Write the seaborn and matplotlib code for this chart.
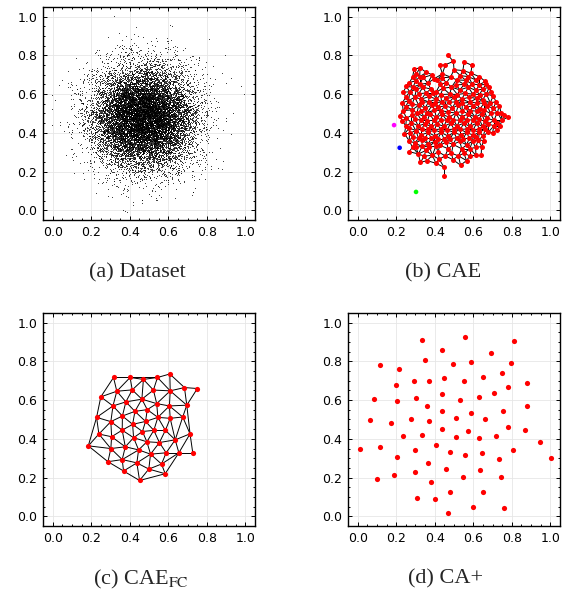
import numpy as np
import pandas as pd
import matplotlib
matplotlib.use("Agg")
import matplotlib.pyplot as plt
import matplotlib.tri as mtri
from matplotlib.collections import LineCollection
from matplotlib.ticker import MultipleLocator
import seaborn as sns

sns.set_style("ticks")
plt.rcParams["font.family"] = ["DejaVu Sans"]
plt.rcParams["mathtext.fontset"] = "stix"

# (a) dataset cloud: ~15k points, too many to read one by one.
CLOUD_CENTER = (0.47, 0.48)
CLOUD_SD = 0.13
CLOUD_N = 15000

# (b) CAE nodes (read approximately from the dense blob)
cae_nodes = [
    (0.468, 0.802), (0.426, 0.748), (0.455, 0.752), (0.497, 0.769), (0.553, 0.767),
    (0.594, 0.748), (0.293, 0.729), (0.324, 0.736),
    (0.305, 0.705), (0.388, 0.700), (0.440, 0.705), (0.500, 0.726), (0.546, 0.722),
    (0.587, 0.709), (0.482, 0.688), (0.356, 0.712),
    (0.285, 0.688), (0.322, 0.690), (0.398, 0.680), (0.436, 0.684), (0.533, 0.696),
    (0.575, 0.690), (0.632, 0.690),
    (0.269, 0.660), (0.302, 0.669), (0.340, 0.686), (0.364, 0.657), (0.414, 0.674),
    (0.461, 0.660), (0.513, 0.674), (0.561, 0.671), (0.612, 0.674), (0.662, 0.666),
    (0.252, 0.640), (0.287, 0.636), (0.322, 0.650), (0.428, 0.650), (0.512, 0.648),
    (0.553, 0.650), (0.595, 0.652), (0.632, 0.648), (0.668, 0.650),
    (0.237, 0.610), (0.270, 0.612), (0.305, 0.626), (0.340, 0.636), (0.380, 0.626),
    (0.406, 0.610), (0.444, 0.631), (0.487, 0.636), (0.530, 0.622), (0.574, 0.636),
    (0.614, 0.619), (0.648, 0.626), (0.683, 0.636),
    (0.250, 0.585), (0.316, 0.602), (0.354, 0.606), (0.390, 0.606), (0.478, 0.600),
    (0.518, 0.598), (0.558, 0.604), (0.598, 0.600), (0.633, 0.598), (0.668, 0.600),
    (0.690, 0.612),
    (0.265, 0.567), (0.296, 0.584), (0.331, 0.574), (0.371, 0.588), (0.409, 0.574),
    (0.430, 0.598), (0.461, 0.578), (0.499, 0.584), (0.539, 0.574), (0.579, 0.584),
    (0.617, 0.578), (0.648, 0.571), (0.704, 0.591), (0.718, 0.560),
    (0.232, 0.555), (0.282, 0.548), (0.333, 0.558), (0.368, 0.560), (0.402, 0.555),
    (0.436, 0.560), (0.475, 0.558), (0.508, 0.560), (0.543, 0.553), (0.582, 0.558),
    (0.618, 0.555), (0.655, 0.552), (0.688, 0.556),
    (0.250, 0.536), (0.284, 0.519), (0.317, 0.543), (0.350, 0.528), (0.388, 0.545),
    (0.419, 0.533), (0.454, 0.540), (0.492, 0.528), (0.523, 0.545), (0.562, 0.533),
    (0.600, 0.540), (0.634, 0.522), (0.672, 0.540), (0.704, 0.526), (0.735, 0.540),
    (0.236, 0.515), (0.330, 0.512), (0.362, 0.505), (0.398, 0.518), (0.432, 0.515),
    (0.470, 0.508), (0.542, 0.512), (0.585, 0.515), (0.620, 0.512), (0.655, 0.518),
    (0.690, 0.500), (0.725, 0.505), (0.760, 0.490),
    (0.218, 0.488), (0.253, 0.476), (0.308, 0.502), (0.343, 0.484), (0.374, 0.498),
    (0.409, 0.481), (0.440, 0.495), (0.475, 0.481), (0.510, 0.502), (0.541, 0.484),
    (0.575, 0.498), (0.610, 0.481), (0.643, 0.498), (0.672, 0.476), (0.707, 0.464),
    (0.745, 0.502), (0.749, 0.464), (0.782, 0.484), (0.280, 0.490),
    (0.297, 0.470), (0.330, 0.466), (0.362, 0.462), (0.395, 0.465), (0.430, 0.468),
    (0.462, 0.465), (0.497, 0.467), (0.530, 0.465), (0.565, 0.468), (0.600, 0.466),
    (0.632, 0.470), (0.660, 0.460), (0.725, 0.452),
    (0.232, 0.462), (0.250, 0.436), (0.243, 0.395),
    (0.279, 0.453), (0.315, 0.436), (0.348, 0.447), (0.383, 0.433), (0.412, 0.447),
    (0.447, 0.433), (0.482, 0.450), (0.516, 0.436), (0.551, 0.450), (0.582, 0.433),
    (0.617, 0.450), (0.648, 0.433), (0.678, 0.447), (0.707, 0.436), (0.738, 0.436),
    (0.268, 0.425), (0.332, 0.420), (0.365, 0.420), (0.398, 0.416), (0.430, 0.420),
    (0.465, 0.416), (0.500, 0.420), (0.533, 0.418), (0.568, 0.420), (0.600, 0.416),
    (0.632, 0.420), (0.662, 0.420), (0.700, 0.400),
    (0.270, 0.398), (0.302, 0.412), (0.331, 0.390), (0.366, 0.402), (0.400, 0.384),
    (0.433, 0.402), (0.468, 0.384), (0.499, 0.402), (0.534, 0.390), (0.565, 0.402),
    (0.600, 0.388), (0.631, 0.402), (0.652, 0.384), (0.679, 0.405), (0.721, 0.416),
    (0.285, 0.378), (0.316, 0.372), (0.350, 0.372), (0.383, 0.372), (0.416, 0.370),
    (0.448, 0.370), (0.480, 0.370), (0.513, 0.375), (0.548, 0.370), (0.580, 0.372),
    (0.612, 0.378), (0.655, 0.360),
    (0.267, 0.360), (0.296, 0.347), (0.333, 0.364), (0.366, 0.343), (0.399, 0.355),
    (0.426, 0.336), (0.461, 0.353), (0.496, 0.340), (0.530, 0.357), (0.565, 0.338),
    (0.596, 0.357), (0.627, 0.364), (0.643, 0.329), (0.612, 0.325),
    (0.285, 0.325), (0.335, 0.330), (0.372, 0.328), (0.405, 0.330), (0.582, 0.318),
    (0.267, 0.303), (0.302, 0.326), (0.315, 0.291), (0.354, 0.309), (0.388, 0.284),
    (0.418, 0.303), (0.454, 0.281), (0.487, 0.295), (0.523, 0.281), (0.551, 0.295),
    (0.582, 0.281), (0.614, 0.284), (0.641, 0.284), (0.470, 0.318), (0.540, 0.318),
    (0.345, 0.280), (0.326, 0.247), (0.360, 0.257), (0.406, 0.243), (0.449, 0.222),
    (0.534, 0.233), (0.565, 0.257), (0.449, 0.178), (0.423, 0.264), (0.494, 0.262),
]
cae_x = [p[0] for p in cae_nodes]
cae_y = [p[1] for p in cae_nodes]
# the three off-cluster units
cae_extra_x = [0.189, 0.218, 0.303]
cae_extra_y = [0.440, 0.323, 0.095]
cae_extra_c = ["#ff00ff", "#0000ff", "#00ff00"]

# (c) CAE_FC nodes
fc_x = [0.316, 0.402, 0.471, 0.544, 0.608, 0.684, 0.751, 0.250, 0.333, 0.413,
        0.523, 0.610, 0.380, 0.463, 0.540, 0.313, 0.606, 0.696, 0.228, 0.362,
        0.427, 0.491, 0.546, 0.610, 0.675, 0.302, 0.415, 0.482, 0.361, 0.466,
        0.525, 0.585, 0.240, 0.306, 0.420, 0.713, 0.185, 0.302, 0.377, 0.489,
        0.554, 0.636, 0.446, 0.508, 0.589, 0.655, 0.727, 0.287, 0.361, 0.437,
        0.565, 0.368, 0.499, 0.584, 0.451]
fc_y = [0.717, 0.717, 0.707, 0.717, 0.735, 0.665, 0.660, 0.617, 0.646, 0.653,
        0.652, 0.648, 0.591, 0.605, 0.582, 0.570, 0.570, 0.574, 0.511, 0.518,
        0.542, 0.551, 0.511, 0.506, 0.513, 0.489, 0.475, 0.490, 0.445, 0.438,
        0.444, 0.444, 0.425, 0.411, 0.406, 0.426, 0.364, 0.350, 0.359, 0.385,
        0.381, 0.395, 0.343, 0.321, 0.328, 0.328, 0.328, 0.282, 0.293, 0.276,
        0.270, 0.234, 0.244, 0.220, 0.185]

# (d) CA+ units
ca_x = [0.014, 0.114, 0.083, 0.066, 0.114, 0.100, 0.217, 0.198, 0.205, 0.172,
        0.234, 0.205, 0.191, 0.333, 0.293, 0.302, 0.276, 0.300, 0.300, 0.308,
        0.348, 0.369, 0.359, 0.369, 0.333, 0.367, 0.383, 0.399, 0.440, 0.449,
        0.437, 0.440, 0.440, 0.407, 0.477, 0.458, 0.477, 0.470, 0.556, 0.494,
        0.553, 0.530, 0.508, 0.508, 0.556, 0.546, 0.596, 0.589, 0.586, 0.574,
        0.653, 0.629, 0.660, 0.631, 0.643, 0.633, 0.650, 0.693, 0.705, 0.718,
        0.731, 0.742, 0.759, 0.747, 0.756, 0.780, 0.780, 0.794, 0.808, 0.813,
        0.879, 0.879, 0.868, 0.946, 1.002]
ca_y = [0.347, 0.780, 0.605, 0.499, 0.359, 0.192, 0.759, 0.679, 0.596, 0.484,
        0.416, 0.305, 0.211, 0.912, 0.697, 0.612, 0.504, 0.345, 0.229, 0.097,
        0.808, 0.698, 0.568, 0.492, 0.421, 0.277, 0.179, 0.092, 0.858, 0.716,
        0.633, 0.546, 0.451, 0.366, 0.331, 0.243, 0.125, 0.019, 0.924, 0.789,
        0.698, 0.603, 0.510, 0.411, 0.317, 0.201, 0.049, 0.799, 0.532, 0.442,
        0.721, 0.614, 0.501, 0.404, 0.328, 0.239, 0.127, 0.841, 0.636, 0.414,
        0.295, 0.203, 0.045, 0.738, 0.544, 0.666, 0.463, 0.792, 0.343, 0.906,
        0.688, 0.568, 0.447, 0.386, 0.303]

RED = "#ff0000"


def style_ax(ax):
    ax.set_xlim(-0.05, 1.05)
    ax.set_ylim(-0.05, 1.05)
    ax.xaxis.set_major_locator(MultipleLocator(0.2))
    ax.yaxis.set_major_locator(MultipleLocator(0.2))
    ax.xaxis.set_minor_locator(MultipleLocator(0.05))
    ax.yaxis.set_minor_locator(MultipleLocator(0.05))
    ax.grid(True, which="major", color="#e6e6e6", linewidth=0.6)
    ax.set_axisbelow(True)
    ax.tick_params(which="both", direction="in", top=True, right=True,
                   labelsize=9, colors="black", width=0.7, pad=4)
    ax.tick_params(which="major", length=3)
    ax.tick_params(which="minor", length=1.5)
    for s in ax.spines.values():
        s.set_linewidth(1.0)
        s.set_color("black")
    ax.set_xlabel("")
    ax.set_ylabel("")


def draw_edges(ax, x, y, max_len):
    # neighbour links from a Delaunay triangulation of the nodes
    x = np.asarray(x)
    y = np.asarray(y)
    tri = mtri.Triangulation(x, y)
    segs = []
    for i, j in tri.edges:
        if np.hypot(x[i] - x[j], y[i] - y[j]) <= max_len:
            segs.append([(x[i], y[i]), (x[j], y[j])])
    ax.add_collection(LineCollection(segs, colors="black", linewidths=0.7, zorder=2))


fig = plt.figure(figsize=(5.67, 5.93), dpi=100)
W, H = 567, 593
aw, ah = 212 / W, 213 / H
ax_a = fig.add_axes([43 / W, 1 - 220 / H, aw, ah])
ax_b = fig.add_axes([348 / W, 1 - 220 / H, aw, ah])
ax_c = fig.add_axes([43 / W, 1 - 526 / H, aw, ah])
ax_d = fig.add_axes([348 / W, 1 - 526 / H, aw, ah])

# (a)
rng = np.random.default_rng(3)
cloud = pd.DataFrame({
    "x": rng.normal(CLOUD_CENTER[0], CLOUD_SD, CLOUD_N),
    "y": rng.normal(CLOUD_CENTER[1], CLOUD_SD, CLOUD_N),
})
sns.scatterplot(data=cloud, x="x", y="y", ax=ax_a, s=0.55, color="black",
                linewidth=0, alpha=0.9)

# (b)
draw_edges(ax_b, cae_x, cae_y, 0.05)
sns.scatterplot(x=cae_x, y=cae_y, ax=ax_b, s=13, color=RED, linewidth=0, zorder=3)
sns.scatterplot(x=cae_extra_x, y=cae_extra_y, ax=ax_b, s=11, hue=cae_extra_c,
                palette={c: c for c in cae_extra_c}, linewidth=0, zorder=3, legend=False)

# (c)
draw_edges(ax_c, fc_x, fc_y, 0.155)
sns.scatterplot(x=fc_x, y=fc_y, ax=ax_c, s=14, color=RED, linewidth=0, zorder=3)

# (d)
sns.scatterplot(x=ca_x, y=ca_y, ax=ax_d, s=14, color=RED, linewidth=0, zorder=3)

for ax in (ax_a, ax_b, ax_c, ax_d):
    style_ax(ax)

cap = dict(ha="center", va="center", fontsize=16, family=["Liberation Serif"])
fig.text(137 / W, 1 - 273 / H, "(a) Dataset", **cap)
fig.text(443 / W, 1 - 273 / H, "(b) CAE", **cap)
fig.text(141 / W, 1 - 579 / H, r"(c) CAE$_{\mathrm{FC}}$", **cap)
fig.text(446 / W, 1 - 579 / H, "(d) CA+", **cap)

fig.savefig("out.png", dpi=100)
